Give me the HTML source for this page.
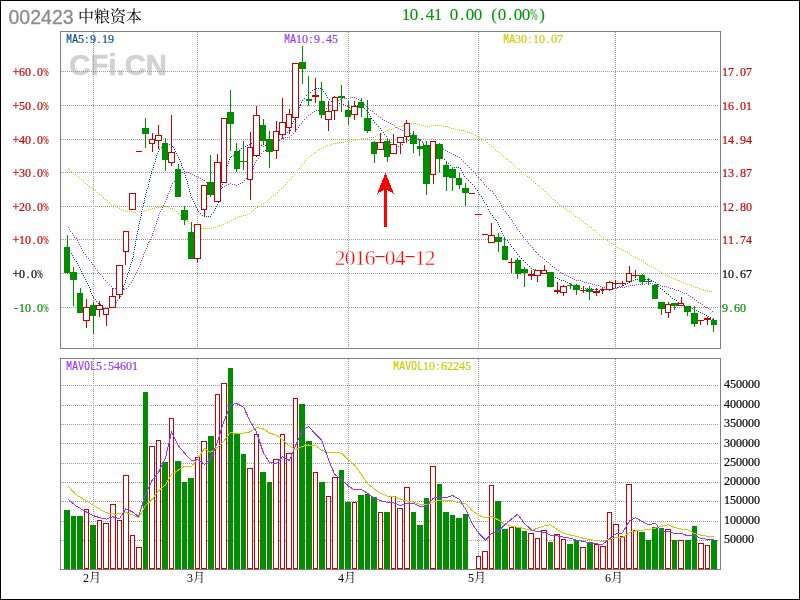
<!DOCTYPE html>
<html><head><meta charset="utf-8"><title>002423 中粮资本</title>
<style>html,body{margin:0;padding:0;background:#fff;overflow:hidden}svg{display:block}
.s{font-family:"Liberation Serif","Noto Serif CJK SC",serif}.m{font-family:"Liberation Mono",monospace}.a{font-family:"Liberation Sans","Noto Sans CJK SC",sans-serif}
.c{shape-rendering:crispEdges}</style></head><body>
<svg width="800" height="600" viewBox="0 0 800 600">
<rect x="0" y="0" width="800" height="600" fill="#fff"/>
<rect class="c" x="0.5" y="0.5" width="799" height="599" fill="none" stroke="#000" stroke-width="1"/>
<text class="a" x="69.3" y="75.3" font-size="29.3" font-weight="bold" fill="#d2d2d2" stroke="#d2d2d2" stroke-width="0.6">CFi.CN</text>
<g class="c" stroke="#999999" stroke-width="1" stroke-dasharray="1 1" fill="none">
<line x1="61" y1="71.5" x2="718.6" y2="71.5"/><line x1="61" y1="105.5" x2="718.6" y2="105.5"/><line x1="61" y1="139.5" x2="718.6" y2="139.5"/><line x1="61" y1="172.5" x2="718.6" y2="172.5"/><line x1="61" y1="206.5" x2="718.6" y2="206.5"/><line x1="61" y1="239.5" x2="718.6" y2="239.5"/><line x1="61" y1="273.5" x2="718.6" y2="273.5"/><line x1="61" y1="307.5" x2="718.6" y2="307.5"/><line x1="61" y1="540.5" x2="718.6" y2="540.5"/><line x1="61" y1="521.5" x2="718.6" y2="521.5"/><line x1="61" y1="501.5" x2="718.6" y2="501.5"/><line x1="61" y1="482.5" x2="718.6" y2="482.5"/><line x1="61" y1="463.5" x2="718.6" y2="463.5"/><line x1="61" y1="443.5" x2="718.6" y2="443.5"/><line x1="61" y1="424.5" x2="718.6" y2="424.5"/><line x1="61" y1="405.5" x2="718.6" y2="405.5"/><line x1="61" y1="385.5" x2="718.6" y2="385.5"/><line x1="93.5" y1="32" x2="93.5" y2="348"/><line x1="93.5" y1="359" x2="93.5" y2="569"/><line x1="197.5" y1="32" x2="197.5" y2="348"/><line x1="197.5" y1="359" x2="197.5" y2="569"/><line x1="348.5" y1="32" x2="348.5" y2="348"/><line x1="348.5" y1="359" x2="348.5" y2="569"/><line x1="478.5" y1="32" x2="478.5" y2="348"/><line x1="478.5" y1="359" x2="478.5" y2="569"/><line x1="615.5" y1="32" x2="615.5" y2="348"/><line x1="615.5" y1="359" x2="615.5" y2="569"/>
</g>
<g class="c" fill="none" stroke="#808080" stroke-width="1"><rect x="60.5" y="31.5" width="660" height="317"/><rect x="60.5" y="358.5" width="660" height="211"/></g>
<path class="c" d="M68 168h1M69 169h1M71 171h1M73 172h1M75 174h1M77 176h1M79 177h1M81 179h1M83 181h1M85 183h1M87 184h1M89 186h1M91 187h1M93 189h1M95 190h1M97 192h1M99 194h1M101 195h1M103 197h1M105 199h1M107 200h1M109 202h1M111 204h1M113 205h1M115 206h1M117 207h1M119 208h1M121 209h1M123 210h1M125 211h1M127 211h1M129 211h1M131 211h1M133 212h1M135 212h1M137 211h1M139 211h1M141 211h1M143 211h1M144 210h1M146 210h1M148 209h1M150 209h1M152 208h1M154 208h1M156 207h1M158 207h1M160 207h1M162 206h1M164 206h1M166 206h1M168 207h1M170 208h1M172 208h1M174 210h1M176 211h1M178 213h1M180 215h1M182 217h1M183 218h1M185 220h1M187 221h1M189 223h1M191 224h1M193 225h1M195 226h1M197 227h1M199 228h1M201 228h1M203 228h1M205 228h1M207 228h1M209 228h1M211 228h1M213 227h1M215 227h1M217 226h1M219 225h1M221 225h1M223 224h1M225 223h1M227 222h1M229 221h1M231 220h1M233 219h1M235 218h1M237 217h1M239 216h1M241 216h1M243 215h1M245 215h1M247 214h1M249 213h1M251 211h1M253 210h1M255 208h1M257 207h1M259 206h1M261 204h1M263 203h1M265 202h1M267 200h1M269 199h1M271 197h1M273 195h1M275 194h1M277 192h1M279 190h1M281 188h1M283 186h1M285 184h1M287 182h1M289 180h1M291 178h1M292 176h1M294 174h1M295 172h1M297 170h1M299 168h1M300 166h1M302 164h1M304 162h1M305 160h1M307 158h1M309 156h1M311 155h1M313 153h1M315 152h1M317 150h1M319 149h1M321 148h1M323 147h1M325 146h1M327 145h1M329 145h1M331 144h1M333 143h1M335 143h1M337 143h1M339 142h1M341 142h1M343 142h1M345 141h1M347 141h1M349 141h1M351 141h1M353 140h1M355 140h1M357 139h1M359 139h1M361 138h1M363 138h1M365 138h1M367 138h1M369 137h1M371 137h1M373 137h1M375 136h1M377 135h1M379 134h1M381 133h1M383 132h1M385 131h1M387 130h1M389 129h1M391 129h1M393 128h1M395 127h1M397 127h1M399 126h1M401 126h1M403 125h1M405 124h1M407 124h1M409 123h1M411 123h1M413 123h1M415 123h1M417 124h1M419 124h1M421 125h1M423 125h1M425 126h1M427 126h1M429 126h1M431 125h1M433 125h1M435 125h1M437 125h1M439 125h1M441 125h1M443 126h1M445 126h1M447 126h1M449 127h1M451 128h1M453 128h1M455 129h1M457 129h1M459 130h1M461 130h1M463 130h1M465 131h1M467 132h1M469 132h1M471 133h1M473 134h1M475 135h1M477 136h1M479 137h1M481 138h1M483 139h1M485 140h1M487 142h1M489 144h1M491 146h1M493 147h1M495 149h1M497 151h1M499 152h1M501 154h1M503 156h1M505 158h1M507 159h1M509 161h1M511 162h1M513 164h1M515 166h1M517 168h1M519 169h1M521 171h1M523 172h1M525 174h1M527 176h1M529 177h1M531 179h1M533 181h1M535 183h1M537 185h1M539 186h1M541 188h1M543 189h1M545 191h1M547 193h1M549 195h1M551 197h1M553 199h1M555 200h1M557 202h1M559 204h1M561 205h1M563 207h1M565 208h1M567 210h1M569 211h1M571 212h1M573 214h1M575 216h1M577 217h1M579 218h1M581 220h1M583 221h1M585 223h1M587 224h1M589 226h1M591 227h1M593 229h1M595 230h1M597 232h1M599 234h1M601 236h1M603 237h1M605 239h1M607 240h1M609 241h1M611 243h1M613 244h1M615 246h1M617 247h1M619 248h1M621 249h1M623 250h1M625 251h1M627 252h1M629 253h1M631 255h1M633 256h1M635 257h1M637 258h1M639 259h1M641 260h1M643 261h1M645 263h1M647 264h1M649 265h1M651 266h1M653 267h1M655 268h1M657 269h1M659 271h1M661 272h1M663 273h1M665 274h1M667 275h1M669 276h1M671 277h1M673 278h1M675 279h1M677 280h1M679 280h1M681 281h1M683 282h1M685 283h1M687 284h1M689 284h1M691 285h1M693 286h1M695 287h1M697 287h1M699 288h1M701 289h1M703 289h1M705 290h1M707 290h1M709 291h1M711 291h1" transform="translate(0,0.5)" stroke="#cccc00" stroke-width="1" fill="none"/>
<path class="c" d="M68 227h1M69 229h1M70 231h1M72 233h1M73 235h1M74 237h1M76 238h1M77 240h1M78 242h1M79 244h1M80 246h1M81 248h1M82 250h1M83 252h1M85 254h1M86 256h1M88 258h1M89 260h1M91 262h1M92 264h1M94 266h1M95 268h1M97 270h1M98 272h1M100 274h1M102 276h1M103 278h1M105 280h1M107 282h1M109 284h1M111 286h1M113 288h1M115 288h1M117 288h1M119 288h1M121 289h1M123 289h1M124 289h1M126 288h1M128 286h1M129 284h1M131 282h1M132 280h1M133 278h1M134 276h1M135 274h1M136 272h1M137 270h1M138 268h1M139 266h1M140 264h1M140 262h1M141 260h1M142 258h1M143 256h1M143 254h1M144 252h1M145 250h1M146 248h1M147 246h1M147 244h1M148 242h1M149 241h1M150 239h1M151 237h1M152 235h1M152 233h1M153 231h1M154 229h1M154 227h1M155 225h1M156 223h1M156 221h1M157 219h1M158 217h1M158 215h1M159 213h1M160 211h1M161 209h1M162 207h1M163 205h1M164 203h1M165 201h1M166 199h1M167 197h1M167 195h1M168 193h1M169 191h1M170 189h1M170 187h1M171 185h1M172 183h1M174 181h1M175 179h1M177 177h1M178 175h1M180 174h1M182 172h1M184 171h1M186 172h1M188 172h1M190 173h1M192 174h1M194 175h1M196 176h1M198 177h1M200 178h1M202 179h1M204 180h1M206 182h1M208 184h1M210 186h1M212 187h1M214 187h1M216 188h1M218 188h1M220 188h1M222 187h1M224 186h1M226 185h1M228 184h1M230 183h1M232 184h1M234 184h1M236 185h1M238 184h1M240 183h1M242 182h1M244 180h1M246 178h1M248 176h1M250 174h1M251 172h1M252 170h1M253 168h1M253 166h1M254 164h1M255 162h1M256 160h1M258 158h1M260 156h1M261 153h1M263 151h1M265 150h1M267 149h1M269 148h1M271 146h1M273 144h1M275 143h1M277 141h1M279 140h1M281 138h1M283 138h1M285 137h1M287 137h1M289 137h1M291 135h1M293 133h1M295 131h1M296 129h1M298 127h1M299 125h1M301 123h1M302 121h1M304 119h1M306 117h1M308 115h1M310 114h1M312 112h1M314 111h1M316 110h1M318 110h1M320 110h1M322 109h1M324 109h1M326 108h1M328 107h1M330 105h1M332 103h1M334 102h1M336 101h1M338 100h1M340 99h1M342 98h1M344 98h1M346 98h1M348 98h1M350 97h1M352 97h1M354 97h1M356 98h1M358 99h1M360 100h1M362 102h1M364 104h1M366 106h1M368 108h1M370 110h1M372 111h1M374 113h1M376 114h1M378 116h1M380 117h1M382 119h1M384 120h1M386 121h1M388 122h1M390 123h1M392 124h1M394 125h1M396 127h1M398 128h1M400 129h1M402 130h1M404 131h1M406 131h1M408 132h1M410 133h1M412 134h1M414 135h1M416 136h1M418 138h1M420 139h1M422 141h1M423 143h1M425 145h1M427 146h1M429 146h1M431 147h1M433 147h1M435 147h1M437 147h1M439 148h1M441 148h1M443 149h1M445 150h1M447 151h1M449 152h1M451 153h1M453 154h1M455 155h1M457 156h1M459 157h1M461 159h1M463 161h1M465 163h1M467 165h1M469 167h1M471 169h1M473 171h1M475 173h1M476 175h1M478 177h1M480 179h1M481 180h1M483 182h1M484 184h1M486 186h1M488 188h1M490 190h1M492 191h1M493 193h1M495 195h1M496 197h1M497 199h1M499 201h1M500 203h1M501 205h1M502 207h1M503 209h1M505 211h1M506 213h1M508 215h1M509 217h1M511 219h1M512 221h1M513 223h1M515 225h1M516 227h1M517 229h1M519 231h1M520 233h1M522 235h1M523 237h1M525 239h1M527 241h1M528 243h1M530 245h1M532 247h1M533 249h1M535 251h1M536 252h1M538 254h1M540 256h1M542 257h1M544 259h1M546 261h1M548 262h1M550 264h1M552 266h1M554 267h1M556 269h1M558 270h1M560 272h1M562 273h1M564 275h1M566 275h1M568 276h1M570 277h1M572 278h1M574 279h1M576 280h1M578 280h1M580 280h1M582 281h1M584 282h1M586 282h1M588 283h1M590 283h1M592 284h1M594 284h1M596 285h1M598 285h1M600 286h1M602 287h1M604 287h1M606 287h1M608 288h1M610 288h1M612 288h1M614 288h1M616 288h1M618 287h1M620 287h1M622 287h1M624 287h1M626 286h1M628 286h1M630 285h1M632 285h1M634 285h1M636 284h1M638 284h1M640 284h1M642 284h1M644 284h1M646 283h1M648 283h1M650 283h1M652 283h1M654 284h1M656 284h1M658 284h1M660 285h1M662 286h1M664 286h1M666 286h1M668 287h1M670 288h1M672 288h1M674 289h1M676 290h1M678 290h1M680 291h1M682 292h1M684 293h1M686 293h1M688 295h1M690 296h1M692 297h1M694 299h1M696 300h1M698 302h1M700 303h1M702 304h1M704 306h1M706 307h1M708 308h1M710 309h1M712 311h1" transform="translate(0,0.5)" stroke="#9933ff" stroke-width="1" fill="none"/>
<path class="c" d="M67 247h1M68 249h1M69 251h1M71 253h1M72 255h1M73 257h1M74 259h1M76 261h1M77 263h1M78 265h1M79 267h1M80 269h1M81 271h1M82 273h1M83 275h1M84 277h1M85 279h1M86 281h1M87 283h1M88 285h1M89 287h1M90 289h1M90 291h1M91 293h1M92 295h1M93 297h1M95 299h1M96 301h1M98 303h1M100 304h1M102 306h1M104 308h1M106 309h1M108 308h1M110 307h1M112 306h1M114 304h1M116 302h1M117 300h1M119 298h1M120 296h1M120 294h1M121 292h1M122 290h1M123 288h1M123 286h1M124 284h1M125 282h1M125 280h1M126 278h1M127 276h1M127 274h1M128 272h1M129 270h1M129 268h1M130 266h1M130 264h1M131 262h1M132 260h1M132 258h1M133 256h1M133 254h1M133 252h1M134 249h1M134 247h1M135 245h1M135 243h1M135 241h1M136 239h1M136 237h1M136 235h1M137 233h1M137 231h1M138 229h1M138 227h1M138 225h1M139 223h1M139 221h1M140 219h1M140 217h1M141 215h1M141 213h1M141 211h1M142 209h1M142 207h1M143 205h1M143 203h1M144 202h1M144 200h1M144 198h1M145 196h1M145 194h1M146 192h1M146 190h1M147 188h1M148 186h1M148 184h1M149 181h1M149 179h1M150 177h1M150 175h1M151 173h1M151 171h1M152 169h1M153 167h1M153 165h1M154 163h1M155 161h1M155 159h1M156 157h1M156 155h1M157 153h1M158 151h1M159 149h1M161 147h1M163 145h1M165 143h1M167 143h1M169 144h1M171 144h1M172 146h1M173 147h1M174 149h1M175 151h1M176 153h1M177 155h1M178 157h1M179 159h1M180 161h1M181 163h1M181 165h1M182 167h1M183 169h1M184 171h1M184 173h1M185 175h1M185 177h1M186 179h1M187 181h1M187 183h1M188 185h1M188 187h1M189 189h1M189 191h1M190 193h1M190 195h1M191 197h1M192 199h1M193 201h1M194 203h1M195 205h1M196 207h1M197 209h1M198 211h1M200 213h1M202 215h1M204 216h1M206 216h1M208 216h1M210 216h1M211 214h1M213 212h1M214 210h1M215 208h1M216 206h1M217 204h1M218 202h1M218 200h1M219 198h1M219 196h1M219 194h1M220 192h1M220 190h1M221 188h1M221 186h1M222 184h1M222 182h1M222 180h1M223 178h1M223 176h1M224 174h1M225 172h1M225 170h1M226 168h1M227 165h1M228 163h1M228 161h1M229 159h1M230 157h1M231 156h1M233 155h1M235 154h1M237 152h1M239 150h1M241 148h1M243 146h1M245 146h1M247 145h1M249 144h1M251 143h1M253 143h1M255 143h1M257 143h1M259 144h1M261 145h1M263 146h1M265 145h1M267 144h1M269 143h1M271 141h1M273 139h1M275 138h1M277 136h1M279 134h1M281 133h1M283 132h1M285 132h1M287 132h1M289 132h1M290 130h1M291 127h1M291 125h1M292 123h1M293 121h1M294 119h1M295 117h1M295 115h1M296 113h1M297 111h1M298 109h1M299 107h1M300 105h1M300 104h1M301 102h1M302 100h1M304 98h1M306 95h1M308 93h1M310 92h1M312 90h1M314 89h1M316 88h1M318 88h1M320 88h1M322 89h1M323 91h1M325 93h1M326 95h1M327 97h1M329 99h1M331 101h1M333 102h1M335 103h1M337 103h1M339 103h1M341 103h1M343 104h1M345 105h1M347 106h1M349 107h1M351 106h1M353 106h1M355 105h1M357 105h1M359 105h1M361 105h1M363 106h1M364 108h1M366 110h1M368 112h1M369 114h1M370 116h1M371 118h1M373 120h1M374 122h1M376 124h1M378 126h1M380 128h1M381 130h1M383 132h1M384 134h1M386 136h1M387 138h1M389 140h1M390 142h1M392 144h1M394 145h1M396 146h1M398 146h1M400 146h1M402 144h1M404 142h1M406 140h1M408 140h1M410 141h1M412 141h1M414 140h1M416 140h1M418 139h1M420 140h1M422 142h1M423 144h1M425 146h1M427 147h1M429 147h1M431 147h1M433 148h1M435 150h1M436 152h1M438 154h1M440 156h1M442 157h1M444 159h1M446 161h1M448 163h1M450 165h1M452 167h1M454 167h1M456 167h1M458 167h1M460 168h1M461 170h1M462 172h1M463 174h1M464 176h1M466 178h1M468 180h1M470 182h1M472 184h1M474 186h1M475 188h1M477 190h1M478 192h1M479 194h1M481 196h1M482 198h1M483 200h1M484 202h1M486 204h1M487 206h1M488 209h1M489 211h1M490 213h1M492 215h1M493 217h1M495 219h1M496 220h1M497 222h1M498 224h1M499 226h1M500 228h1M501 231h1M502 233h1M503 235h1M504 237h1M505 239h1M507 240h1M508 242h1M510 244h1M511 246h1M513 248h1M514 250h1M516 252h1M517 254h1M519 256h1M521 258h1M523 260h1M525 262h1M527 264h1M529 266h1M531 268h1M533 269h1M535 269h1M537 270h1M539 271h1M541 271h1M543 272h1M545 272h1M547 273h1M549 274h1M551 275h1M553 276h1M555 277h1M557 278h1M559 279h1M561 280h1M563 280h1M565 281h1M567 282h1M569 283h1M571 284h1M573 285h1M575 287h1M577 287h1M579 288h1M581 288h1M583 288h1M585 288h1M587 288h1M589 288h1M591 288h1M593 289h1M595 289h1M597 289h1M599 290h1M601 290h1M603 290h1M605 289h1M607 289h1M609 289h1M611 288h1M613 288h1M615 287h1M617 287h1M619 286h1M621 286h1M623 285h1M625 284h1M627 283h1M629 282h1M631 281h1M633 280h1M635 279h1M637 279h1M639 279h1M641 279h1M643 279h1M645 279h1M647 279h1M649 279h1M651 280h1M653 281h1M655 282h1M657 284h1M658 286h1M660 288h1M662 289h1M664 291h1M666 293h1M668 294h1M670 296h1M672 298h1M674 299h1M676 300h1M678 302h1M680 303h1M682 304h1M684 305h1M686 306h1M688 307h1M690 307h1M692 308h1M694 309h1M696 310h1M698 311h1M700 312h1M702 313h1M704 314h1M706 315h1M708 316h1M710 317h1M712 319h1" transform="translate(0,0.5)" stroke="#004c99" stroke-width="1" fill="none"/>
<g class="c">
<rect x="67" y="235" width="1" height="39" fill="#008e00"/><rect x="64" y="247" width="6" height="26" fill="#008e00"/>
<rect x="73" y="267" width="1" height="39" fill="#008e00"/><rect x="70" y="272" width="7" height="8" fill="#008e00"/>
<rect x="80" y="288" width="1" height="25" fill="#008e00"/><rect x="77" y="293" width="6" height="20" fill="#008e00"/>
<rect x="86" y="299" width="1" height="29" fill="#cc0000"/><rect x="83.5" y="307.5" width="6" height="13" fill="#fff" stroke="#cc0000" stroke-width="1"/>
<rect x="93" y="302" width="1" height="32" fill="#008e00"/><rect x="90" y="305" width="6" height="11" fill="#008e00"/>
<rect x="99" y="301" width="1" height="16" fill="#cc0000"/><rect x="96.5" y="305.5" width="6" height="4" fill="#fff" stroke="#cc0000" stroke-width="1"/>
<rect x="106" y="308" width="1" height="18" fill="#cc0000"/><rect x="103.5" y="308.5" width="5" height="6" fill="#fff" stroke="#cc0000" stroke-width="1"/>
<rect x="112" y="288" width="1" height="20" fill="#cc0000"/><rect x="109.5" y="296.5" width="6" height="11" fill="#fff" stroke="#cc0000" stroke-width="1"/>
<rect x="119" y="265" width="1" height="34" fill="#cc0000"/><rect x="116.5" y="265.5" width="6" height="29" fill="#fff" stroke="#cc0000" stroke-width="1"/>
<rect x="125" y="231" width="1" height="34" fill="#cc0000"/><rect x="123.5" y="231.5" width="5" height="20" fill="#fff" stroke="#cc0000" stroke-width="1"/>
<rect x="132" y="193" width="1" height="17" fill="#cc0000"/><rect x="129.5" y="193.5" width="6" height="16" fill="#fff" stroke="#cc0000" stroke-width="1"/>
<rect x="136" y="151" width="6" height="1" fill="#cc0000"/>
<rect x="145" y="118" width="1" height="30" fill="#008e00"/><rect x="142" y="128" width="7" height="6" fill="#008e00"/>
<rect x="152" y="133" width="1" height="19" fill="#cc0000"/><rect x="149.5" y="139.5" width="5" height="4" fill="#fff" stroke="#cc0000" stroke-width="1"/>
<rect x="158" y="125" width="1" height="24" fill="#cc0000"/><rect x="155.5" y="135.5" width="6" height="5" fill="#fff" stroke="#cc0000" stroke-width="1"/>
<rect x="165" y="138" width="1" height="33" fill="#008e00"/><rect x="162" y="143" width="6" height="17" fill="#008e00"/>
<rect x="171" y="115" width="1" height="51" fill="#cc0000"/><rect x="168.5" y="152.5" width="6" height="10" fill="#fff" stroke="#cc0000" stroke-width="1"/>
<rect x="178" y="164" width="1" height="33" fill="#008e00"/><rect x="175" y="169" width="6" height="28" fill="#008e00"/>
<rect x="184" y="206" width="1" height="19" fill="#008e00"/><rect x="181" y="210" width="7" height="10" fill="#008e00"/>
<rect x="191" y="222" width="1" height="37" fill="#008e00"/><rect x="188" y="232" width="6" height="27" fill="#008e00"/>
<rect x="197" y="224" width="1" height="39" fill="#cc0000"/><rect x="194.5" y="224.5" width="6" height="34" fill="#fff" stroke="#cc0000" stroke-width="1"/>
<rect x="204" y="185" width="1" height="32" fill="#cc0000"/><rect x="201.5" y="185.5" width="5" height="24" fill="#fff" stroke="#cc0000" stroke-width="1"/>
<rect x="210" y="155" width="1" height="42" fill="#008e00"/><rect x="207" y="182" width="7" height="13" fill="#008e00"/>
<rect x="217" y="154" width="1" height="48" fill="#cc0000"/><rect x="214.5" y="162.5" width="6" height="39" fill="#fff" stroke="#cc0000" stroke-width="1"/>
<rect x="223" y="118" width="1" height="65" fill="#cc0000"/><rect x="221.5" y="118.5" width="5" height="64" fill="#fff" stroke="#cc0000" stroke-width="1"/>
<rect x="230" y="90" width="1" height="61" fill="#008e00"/><rect x="227" y="112" width="7" height="12" fill="#008e00"/>
<rect x="236" y="143" width="1" height="29" fill="#008e00"/><rect x="234" y="151" width="6" height="18" fill="#008e00"/>
<rect x="243" y="141" width="1" height="29" fill="#008e00"/><rect x="240" y="161" width="7" height="1" fill="#008e00"/>
<rect x="250" y="132" width="1" height="68" fill="#cc0000"/><rect x="247.5" y="147.5" width="5" height="32" fill="#fff" stroke="#cc0000" stroke-width="1"/>
<rect x="256" y="106" width="1" height="51" fill="#cc0000"/><rect x="253.5" y="115.5" width="6" height="40" fill="#fff" stroke="#cc0000" stroke-width="1"/>
<rect x="263" y="119" width="1" height="26" fill="#008e00"/><rect x="260" y="125" width="6" height="16" fill="#008e00"/>
<rect x="269" y="131" width="1" height="37" fill="#008e00"/><rect x="266" y="139" width="7" height="13" fill="#008e00"/>
<rect x="276" y="121" width="1" height="38" fill="#cc0000"/><rect x="273.5" y="131.5" width="5" height="19" fill="#fff" stroke="#cc0000" stroke-width="1"/>
<rect x="282" y="98" width="1" height="41" fill="#cc0000"/><rect x="279.5" y="122.5" width="6" height="12" fill="#fff" stroke="#cc0000" stroke-width="1"/>
<rect x="289" y="109" width="1" height="25" fill="#cc0000"/><rect x="286.5" y="114.5" width="5" height="13" fill="#fff" stroke="#cc0000" stroke-width="1"/>
<rect x="295" y="63" width="1" height="69" fill="#cc0000"/><rect x="292.5" y="63.5" width="6" height="54" fill="#fff" stroke="#cc0000" stroke-width="1"/>
<rect x="302" y="46" width="1" height="38" fill="#008e00"/><rect x="299" y="62" width="7" height="7" fill="#008e00"/>
<rect x="308" y="76" width="1" height="30" fill="#008e00"/><rect x="306" y="99" width="6" height="2" fill="#008e00"/>
<rect x="315" y="78" width="1" height="25" fill="#cc0000"/><rect x="312" y="95" width="7" height="2" fill="#cc0000"/>
<rect x="321" y="82" width="1" height="36" fill="#008e00"/><rect x="319" y="101" width="6" height="14" fill="#008e00"/>
<rect x="328" y="101" width="1" height="30" fill="#cc0000"/><rect x="325.5" y="111.5" width="6" height="8" fill="#fff" stroke="#cc0000" stroke-width="1"/>
<rect x="334" y="96" width="1" height="24" fill="#cc0000"/><rect x="332.5" y="97.5" width="5" height="13" fill="#fff" stroke="#cc0000" stroke-width="1"/>
<rect x="341" y="85" width="1" height="27" fill="#008e00"/><rect x="338" y="96" width="7" height="2" fill="#008e00"/>
<rect x="348" y="101" width="1" height="24" fill="#008e00"/><rect x="345" y="110" width="6" height="7" fill="#008e00"/>
<rect x="354" y="101" width="1" height="19" fill="#cc0000"/><rect x="351.5" y="106.5" width="6" height="8" fill="#fff" stroke="#cc0000" stroke-width="1"/>
<rect x="361" y="98" width="1" height="19" fill="#008e00"/><rect x="358" y="102" width="6" height="6" fill="#008e00"/>
<rect x="367" y="100" width="1" height="33" fill="#008e00"/><rect x="364" y="118" width="7" height="13" fill="#008e00"/>
<rect x="374" y="141" width="1" height="22" fill="#008e00"/><rect x="371" y="142" width="6" height="12" fill="#008e00"/>
<rect x="380" y="133" width="1" height="17" fill="#cc0000"/><rect x="377.5" y="142.5" width="6" height="7" fill="#fff" stroke="#cc0000" stroke-width="1"/>
<rect x="387" y="138" width="1" height="24" fill="#008e00"/><rect x="384" y="141" width="6" height="16" fill="#008e00"/>
<rect x="393" y="134" width="1" height="20" fill="#cc0000"/><rect x="390.5" y="144.5" width="6" height="9" fill="#fff" stroke="#cc0000" stroke-width="1"/>
<rect x="400" y="137" width="1" height="17" fill="#cc0000"/><rect x="397.5" y="137.5" width="6" height="5" fill="#fff" stroke="#cc0000" stroke-width="1"/>
<rect x="406" y="120" width="1" height="23" fill="#cc0000"/><rect x="404.5" y="123.5" width="5" height="13" fill="#fff" stroke="#cc0000" stroke-width="1"/>
<rect x="413" y="131" width="1" height="22" fill="#008e00"/><rect x="410" y="135" width="7" height="9" fill="#008e00"/>
<rect x="419" y="139" width="1" height="17" fill="#008e00"/><rect x="417" y="146" width="6" height="3" fill="#008e00"/>
<rect x="426" y="141" width="1" height="54" fill="#008e00"/><rect x="423" y="145" width="7" height="39" fill="#008e00"/>
<rect x="433" y="141" width="1" height="43" fill="#cc0000"/><rect x="430.5" y="141.5" width="5" height="33" fill="#fff" stroke="#cc0000" stroke-width="1"/>
<rect x="439" y="143" width="1" height="29" fill="#008e00"/><rect x="436" y="144" width="7" height="15" fill="#008e00"/>
<rect x="446" y="161" width="1" height="30" fill="#008e00"/><rect x="443" y="165" width="6" height="12" fill="#008e00"/>
<rect x="452" y="167" width="1" height="24" fill="#008e00"/><rect x="449" y="169" width="7" height="9" fill="#008e00"/>
<rect x="459" y="173" width="1" height="16" fill="#008e00"/><rect x="456" y="178" width="6" height="7" fill="#008e00"/>
<rect x="465" y="183" width="1" height="23" fill="#008e00"/><rect x="462" y="188" width="7" height="5" fill="#008e00"/>
<rect x="469" y="193" width="6" height="1" fill="#cc0000"/>
<rect x="475" y="214" width="7" height="1" fill="#cc0000"/>
<rect x="482" y="234" width="6" height="1" fill="#cc0000"/>
<rect x="491" y="223" width="1" height="20" fill="#cc0000"/><rect x="488.5" y="235.5" width="6" height="7" fill="#fff" stroke="#cc0000" stroke-width="1"/>
<rect x="498" y="233" width="1" height="19" fill="#008e00"/><rect x="495" y="237" width="7" height="5" fill="#008e00"/>
<rect x="504" y="238" width="1" height="22" fill="#008e00"/><rect x="502" y="246" width="6" height="14" fill="#008e00"/>
<rect x="511" y="258" width="1" height="15" fill="#cc0000"/><rect x="508" y="262" width="7" height="1" fill="#cc0000"/>
<rect x="517" y="258" width="1" height="21" fill="#008e00"/><rect x="515" y="260" width="6" height="14" fill="#008e00"/>
<rect x="524" y="267" width="1" height="20" fill="#008e00"/><rect x="521" y="269" width="7" height="4" fill="#008e00"/>
<rect x="531" y="270" width="1" height="10" fill="#cc0000"/><rect x="528" y="274" width="6" height="2" fill="#cc0000"/>
<rect x="537" y="270" width="1" height="12" fill="#cc0000"/><rect x="534.5" y="270.5" width="6" height="5" fill="#fff" stroke="#cc0000" stroke-width="1"/>
<rect x="544" y="265" width="1" height="9" fill="#cc0000"/><rect x="541.5" y="270.5" width="5" height="3" fill="#fff" stroke="#cc0000" stroke-width="1"/>
<rect x="550" y="272" width="1" height="15" fill="#008e00"/><rect x="547" y="272" width="7" height="15" fill="#008e00"/>
<rect x="557" y="282" width="1" height="12" fill="#cc0000"/><rect x="554" y="290" width="6" height="2" fill="#cc0000"/>
<rect x="563" y="285" width="1" height="11" fill="#cc0000"/><rect x="560.5" y="286.5" width="6" height="6" fill="#fff" stroke="#cc0000" stroke-width="1"/>
<rect x="570" y="283" width="1" height="6" fill="#008e00"/><rect x="567" y="285" width="6" height="1" fill="#008e00"/>
<rect x="576" y="284" width="1" height="11" fill="#008e00"/><rect x="573" y="285" width="7" height="5" fill="#008e00"/>
<rect x="583" y="286" width="1" height="7" fill="#cc0000"/><rect x="580" y="290" width="6" height="1" fill="#cc0000"/>
<rect x="589" y="286" width="1" height="14" fill="#008e00"/><rect x="586" y="289" width="7" height="3" fill="#008e00"/>
<rect x="596" y="288" width="1" height="8" fill="#cc0000"/><rect x="593" y="291" width="7" height="2" fill="#cc0000"/>
<rect x="602" y="287" width="1" height="7" fill="#cc0000"/><rect x="600" y="289" width="6" height="1" fill="#cc0000"/>
<rect x="609" y="281" width="1" height="10" fill="#cc0000"/><rect x="606.5" y="282.5" width="6" height="7" fill="#fff" stroke="#cc0000" stroke-width="1"/>
<rect x="615" y="280" width="1" height="7" fill="#cc0000"/><rect x="613" y="283" width="6" height="1" fill="#cc0000"/>
<rect x="622" y="281" width="1" height="5" fill="#cc0000"/><rect x="619" y="283" width="7" height="1" fill="#cc0000"/>
<rect x="629" y="266" width="1" height="16" fill="#cc0000"/><rect x="626.5" y="273.5" width="5" height="8" fill="#fff" stroke="#cc0000" stroke-width="1"/>
<rect x="635" y="270" width="1" height="8" fill="#cc0000"/><rect x="632" y="275" width="7" height="1" fill="#cc0000"/>
<rect x="642" y="274" width="1" height="10" fill="#008e00"/><rect x="639" y="275" width="6" height="7" fill="#008e00"/>
<rect x="648" y="278" width="1" height="7" fill="#008e00"/><rect x="645" y="281" width="7" height="1" fill="#008e00"/>
<rect x="655" y="284" width="1" height="15" fill="#008e00"/><rect x="652" y="285" width="6" height="14" fill="#008e00"/>
<rect x="661" y="302" width="1" height="13" fill="#008e00"/><rect x="658" y="302" width="7" height="7" fill="#008e00"/>
<rect x="668" y="302" width="1" height="16" fill="#cc0000"/><rect x="665.5" y="304.5" width="5" height="8" fill="#fff" stroke="#cc0000" stroke-width="1"/>
<rect x="674" y="303" width="1" height="7" fill="#008e00"/><rect x="671" y="303" width="7" height="3" fill="#008e00"/>
<rect x="681" y="297" width="1" height="9" fill="#cc0000"/><rect x="678.5" y="303.5" width="5" height="2" fill="#fff" stroke="#cc0000" stroke-width="1"/>
<rect x="687" y="306" width="1" height="10" fill="#008e00"/><rect x="684" y="306" width="7" height="6" fill="#008e00"/>
<rect x="694" y="306" width="1" height="21" fill="#008e00"/><rect x="691" y="313" width="7" height="11" fill="#008e00"/>
<rect x="700" y="320" width="1" height="5" fill="#cc0000"/><rect x="698" y="320" width="6" height="1" fill="#cc0000"/>
<rect x="707" y="317" width="1" height="8" fill="#cc0000"/><rect x="704" y="318" width="7" height="2" fill="#cc0000"/>
<rect x="713" y="318" width="1" height="14" fill="#008e00"/><rect x="711" y="320" width="6" height="5" fill="#008e00"/>
</g>
<g class="c">
<rect x="64" y="510" width="6" height="59" fill="#008e00"/>
<rect x="71" y="516" width="5" height="53" fill="#008e00"/>
<rect x="77" y="516" width="6" height="53" fill="#008e00"/>
<rect x="84.5" y="509.5" width="4" height="59" fill="#fff" stroke="#cc0000" stroke-width="1"/>
<rect x="90" y="525" width="6" height="44" fill="#008e00"/>
<rect x="97.5" y="520.5" width="4" height="48" fill="#fff" stroke="#cc0000" stroke-width="1"/>
<rect x="103.5" y="523.5" width="5" height="45" fill="#fff" stroke="#cc0000" stroke-width="1"/>
<rect x="110.5" y="504.5" width="5" height="64" fill="#fff" stroke="#cc0000" stroke-width="1"/>
<rect x="117.5" y="520.5" width="4" height="48" fill="#fff" stroke="#cc0000" stroke-width="1"/>
<rect x="123.5" y="475.5" width="5" height="93" fill="#fff" stroke="#cc0000" stroke-width="1"/>
<rect x="130.5" y="535.5" width="4" height="33" fill="#fff" stroke="#cc0000" stroke-width="1"/>
<rect x="136.5" y="547.5" width="5" height="21" fill="#fff" stroke="#cc0000" stroke-width="1"/>
<rect x="143" y="392" width="5" height="177" fill="#008e00"/>
<rect x="149.5" y="446.5" width="5" height="122" fill="#fff" stroke="#cc0000" stroke-width="1"/>
<rect x="156.5" y="440.5" width="4" height="128" fill="#fff" stroke="#cc0000" stroke-width="1"/>
<rect x="162" y="462" width="6" height="107" fill="#008e00"/>
<rect x="169.5" y="418.5" width="4" height="150" fill="#fff" stroke="#cc0000" stroke-width="1"/>
<rect x="175" y="461" width="6" height="108" fill="#008e00"/>
<rect x="182" y="482" width="5" height="87" fill="#008e00"/>
<rect x="188" y="478" width="6" height="91" fill="#008e00"/>
<rect x="195.5" y="457.5" width="4" height="111" fill="#fff" stroke="#cc0000" stroke-width="1"/>
<rect x="201.5" y="441.5" width="5" height="127" fill="#fff" stroke="#cc0000" stroke-width="1"/>
<rect x="208" y="436" width="6" height="133" fill="#008e00"/>
<rect x="215.5" y="394.5" width="4" height="174" fill="#fff" stroke="#cc0000" stroke-width="1"/>
<rect x="221.5" y="383.5" width="5" height="185" fill="#fff" stroke="#cc0000" stroke-width="1"/>
<rect x="228" y="368" width="5" height="201" fill="#008e00"/>
<rect x="234" y="434" width="6" height="135" fill="#008e00"/>
<rect x="241" y="454" width="5" height="115" fill="#008e00"/>
<rect x="247.5" y="468.5" width="5" height="100" fill="#fff" stroke="#cc0000" stroke-width="1"/>
<rect x="254.5" y="434.5" width="4" height="134" fill="#fff" stroke="#cc0000" stroke-width="1"/>
<rect x="260" y="472" width="6" height="97" fill="#008e00"/>
<rect x="267" y="482" width="5" height="87" fill="#008e00"/>
<rect x="273.5" y="459.5" width="5" height="109" fill="#fff" stroke="#cc0000" stroke-width="1"/>
<rect x="280.5" y="434.5" width="4" height="134" fill="#fff" stroke="#cc0000" stroke-width="1"/>
<rect x="286.5" y="453.5" width="5" height="115" fill="#fff" stroke="#cc0000" stroke-width="1"/>
<rect x="293.5" y="398.5" width="4" height="170" fill="#fff" stroke="#cc0000" stroke-width="1"/>
<rect x="299" y="404" width="6" height="165" fill="#008e00"/>
<rect x="306" y="441" width="6" height="128" fill="#008e00"/>
<rect x="313.5" y="472.5" width="4" height="96" fill="#fff" stroke="#cc0000" stroke-width="1"/>
<rect x="319" y="482" width="6" height="87" fill="#008e00"/>
<rect x="326.5" y="496.5" width="4" height="72" fill="#fff" stroke="#cc0000" stroke-width="1"/>
<rect x="332.5" y="477.5" width="5" height="91" fill="#fff" stroke="#cc0000" stroke-width="1"/>
<rect x="339" y="470" width="5" height="99" fill="#008e00"/>
<rect x="345" y="502" width="6" height="67" fill="#008e00"/>
<rect x="352.5" y="502.5" width="4" height="66" fill="#fff" stroke="#cc0000" stroke-width="1"/>
<rect x="358" y="495" width="6" height="74" fill="#008e00"/>
<rect x="365" y="494" width="5" height="75" fill="#008e00"/>
<rect x="371" y="497" width="6" height="72" fill="#008e00"/>
<rect x="378.5" y="512.5" width="4" height="56" fill="#fff" stroke="#cc0000" stroke-width="1"/>
<rect x="384" y="512" width="6" height="57" fill="#008e00"/>
<rect x="391.5" y="496.5" width="4" height="72" fill="#fff" stroke="#cc0000" stroke-width="1"/>
<rect x="397.5" y="508.5" width="5" height="60" fill="#fff" stroke="#cc0000" stroke-width="1"/>
<rect x="404.5" y="487.5" width="5" height="81" fill="#fff" stroke="#cc0000" stroke-width="1"/>
<rect x="411" y="512" width="5" height="57" fill="#008e00"/>
<rect x="417" y="525" width="6" height="44" fill="#008e00"/>
<rect x="424" y="498" width="5" height="71" fill="#008e00"/>
<rect x="430.5" y="466.5" width="5" height="102" fill="#fff" stroke="#cc0000" stroke-width="1"/>
<rect x="437" y="484" width="5" height="85" fill="#008e00"/>
<rect x="443" y="512" width="6" height="57" fill="#008e00"/>
<rect x="450" y="515" width="5" height="54" fill="#008e00"/>
<rect x="456" y="518" width="6" height="51" fill="#008e00"/>
<rect x="463" y="514" width="5" height="55" fill="#008e00"/>
<rect x="476.5" y="556.5" width="4" height="12" fill="#fff" stroke="#cc0000" stroke-width="1"/>
<rect x="482.5" y="551.5" width="5" height="17" fill="#fff" stroke="#cc0000" stroke-width="1"/>
<rect x="489.5" y="485.5" width="4" height="83" fill="#fff" stroke="#cc0000" stroke-width="1"/>
<rect x="495" y="501" width="6" height="68" fill="#008e00"/>
<rect x="502" y="529" width="6" height="40" fill="#008e00"/>
<rect x="509.5" y="527.5" width="4" height="41" fill="#fff" stroke="#cc0000" stroke-width="1"/>
<rect x="515" y="527" width="6" height="42" fill="#008e00"/>
<rect x="522" y="531" width="5" height="38" fill="#008e00"/>
<rect x="528.5" y="533.5" width="5" height="35" fill="#fff" stroke="#cc0000" stroke-width="1"/>
<rect x="535.5" y="538.5" width="4" height="30" fill="#fff" stroke="#cc0000" stroke-width="1"/>
<rect x="541.5" y="530.5" width="5" height="38" fill="#fff" stroke="#cc0000" stroke-width="1"/>
<rect x="548" y="542" width="5" height="27" fill="#008e00"/>
<rect x="554.5" y="534.5" width="5" height="34" fill="#fff" stroke="#cc0000" stroke-width="1"/>
<rect x="561.5" y="539.5" width="4" height="29" fill="#fff" stroke="#cc0000" stroke-width="1"/>
<rect x="567" y="544" width="6" height="25" fill="#008e00"/>
<rect x="574" y="540" width="5" height="29" fill="#008e00"/>
<rect x="580.5" y="547.5" width="5" height="21" fill="#fff" stroke="#cc0000" stroke-width="1"/>
<rect x="587" y="542" width="6" height="27" fill="#008e00"/>
<rect x="594.5" y="544.5" width="4" height="24" fill="#fff" stroke="#cc0000" stroke-width="1"/>
<rect x="600.5" y="546.5" width="5" height="22" fill="#fff" stroke="#cc0000" stroke-width="1"/>
<rect x="607.5" y="512.5" width="4" height="56" fill="#fff" stroke="#cc0000" stroke-width="1"/>
<rect x="613.5" y="524.5" width="5" height="44" fill="#fff" stroke="#cc0000" stroke-width="1"/>
<rect x="620.5" y="536.5" width="4" height="32" fill="#fff" stroke="#cc0000" stroke-width="1"/>
<rect x="626.5" y="484.5" width="5" height="84" fill="#fff" stroke="#cc0000" stroke-width="1"/>
<rect x="633.5" y="530.5" width="4" height="38" fill="#fff" stroke="#cc0000" stroke-width="1"/>
<rect x="639" y="532" width="6" height="37" fill="#008e00"/>
<rect x="646" y="540" width="5" height="29" fill="#008e00"/>
<rect x="652" y="527" width="6" height="42" fill="#008e00"/>
<rect x="659" y="528" width="5" height="41" fill="#008e00"/>
<rect x="665.5" y="529.5" width="5" height="39" fill="#fff" stroke="#cc0000" stroke-width="1"/>
<rect x="672" y="540" width="5" height="29" fill="#008e00"/>
<rect x="678.5" y="540.5" width="5" height="28" fill="#fff" stroke="#cc0000" stroke-width="1"/>
<rect x="685" y="540" width="6" height="29" fill="#008e00"/>
<rect x="692" y="526" width="5" height="43" fill="#008e00"/>
<rect x="698.5" y="543.5" width="5" height="25" fill="#fff" stroke="#cc0000" stroke-width="1"/>
<rect x="705.5" y="545.5" width="4" height="23" fill="#fff" stroke="#cc0000" stroke-width="1"/>
<rect x="711" y="540" width="6" height="29" fill="#008e00"/>
</g>
<g class="c">
<polyline points="68,486 75.5,494.25 85.5,500.5 95.5,506.5 105.5,512.5 115.5,514.25 123,513 125.5,512.3 132.5,514.8 138.5,517.9 145.5,505.5 152.5,499.2 158.5,490.7 165.5,484.9 171.5,474.4 178.5,470.1 184.5,466.3 191.5,466.6 197.5,458.8 204.5,448.2 210.5,452.6 217.5,447.4 223.5,441.7 230.5,432.3 236.5,433.9 243.5,433.2 250.5,431.8 256.5,427.4 263.5,428.9 269.5,433 276.5,435.3 282.5,439.3 289.5,446.3 295.5,449.3 302.5,446.3 308.5,445 315.5,445.4 321.5,450.2 328.5,452.6 334.5,452.1 341.5,453.2 348.5,460 354.5,464.9 361.5,474.6 367.5,483.6 374.5,489.2 380.5,493.2 387.5,496.2 393.5,496.2 400.5,499.3 406.5,501 413.5,502 419.5,504.3 426.5,504.6 433.5,501.8 439.5,500.5 446.5,500.5 452.5,500.8 459.5,503 465.5,503.6 472.5,510.85 478.5,515.25 485.5,517.85 491.5,516.55 498.5,520.05 504.5,524.55 511.5,526.05 517.5,527.25 524.5,528.55 531.5,530.45 537.5,528.3 544.5,525.7 550.5,524.8 557.5,529.7 563.5,533.5 570.5,535 576.5,536.3 583.5,538.3 589.5,539.4 596.5,540.5 602.5,541.3 609.5,539.5 615.5,537.7 622.5,537.9 629.5,532.4 635.5,531 642.5,530.2 648.5,529.5 655.5,528 661.5,526.4 668.5,524.7 674.5,527.5 681.5,529.1 687.5,529.5 694.5,533.7 700.5,535 707.5,536.3 713.5,536.3" fill="none" stroke="#cccc00" stroke-width="1"/>
<polyline points="68,499.25 75.5,505.5 85.5,511.5 93.5,515.7 99.5,517.7 106.5,519.1 112.5,516.7 119.5,518.9 125.5,508.9 132.5,511.9 138.5,516.7 145.5,494.3 152.5,479.5 158.5,472.5 165.5,457.9 171.5,432.1 178.5,445.9 184.5,453.1 191.5,460.7 197.5,459.7 204.5,464.3 210.5,459.3 217.5,441.7 223.5,422.7 230.5,404.9 236.5,403.5 243.5,407.1 250.5,421.9 256.5,432.1 263.5,452.9 269.5,462.5 276.5,463.5 282.5,456.7 289.5,460.5 295.5,445.7 302.5,430.1 308.5,426.5 315.5,434.1 321.5,439.9 328.5,459.5 334.5,474.1 341.5,479.9 348.5,485.9 354.5,489.9 361.5,489.7 367.5,493.1 374.5,498.5 380.5,500.5 387.5,502.5 393.5,502.7 400.5,505.5 406.5,503.5 413.5,503.5 419.5,506.1 426.5,506.5 433.5,498.1 439.5,497.5 446.5,497.5 452.5,495.5 459.5,499.5 465.5,509.1 472.5,524.2 478.5,533 485.5,540.2 491.5,533.6 498.5,531 504.5,524.9 511.5,519.1 517.5,514.3 524.5,523.5 531.5,529.9 537.5,531.7 544.5,532.3 550.5,535.3 557.5,535.9 563.5,537.1 570.5,538.3 576.5,540.3 583.5,541.3 589.5,542.9 596.5,543.9 602.5,544.3 609.5,538.7 615.5,534.1 622.5,532.9 629.5,520.9 635.5,517.7 642.5,521.7 648.5,524.9 655.5,523.1 661.5,531.9 668.5,531.7 674.5,533.3 681.5,533.3 687.5,535.9 694.5,535.5 700.5,538.3 707.5,539.3 713.5,539.3" fill="none" stroke="#9933ff" stroke-width="1"/>
</g>
<text class="a" x="8.5" y="24" font-size="19.5" fill="#8c8c8c" stroke="#8c8c8c" stroke-width="0.3">002423</text>
<text class="s" x="78" y="22" font-size="16" fill="#000">中粮资本</text>
<text class="s" x="406 414 422 430 438 446 454 462 470 478 486 494 502 510 518 526 534 542" y="20" font-size="17" fill="#009900" stroke="#009900" stroke-width="0.1" text-anchor="middle" xml:space="preserve">10.41 0.00 (0.00<tspan textLength="7.4" lengthAdjust="spacingAndGlyphs">%</tspan>)</text>
<text class="s" x="69 75 81 87 93 99 105 111" y="43" font-size="12" fill="#004c99" stroke="#004c99" stroke-width="0.2" text-anchor="middle" xml:space="preserve"><tspan class="m" font-size="12.36" textLength="5.7" lengthAdjust="spacingAndGlyphs">M</tspan><tspan class="m" font-size="12.36" textLength="5.7" lengthAdjust="spacingAndGlyphs">A</tspan>5:9.19</text>
<text class="s" x="287 293 299 305 311 317 323 329 335" y="43" font-size="12" fill="#9933ff" stroke="#9933ff" stroke-width="0.2" text-anchor="middle" xml:space="preserve"><tspan class="m" font-size="12.36" textLength="5.7" lengthAdjust="spacingAndGlyphs">M</tspan><tspan class="m" font-size="12.36" textLength="5.7" lengthAdjust="spacingAndGlyphs">A</tspan>10:9.45</text>
<text class="s" x="506 512 518 524 530 536 542 548 554 560" y="43" font-size="12" fill="#cccc00" stroke="#cccc00" stroke-width="0.2" text-anchor="middle" xml:space="preserve"><tspan class="m" font-size="12.36" textLength="5.7" lengthAdjust="spacingAndGlyphs">M</tspan><tspan class="m" font-size="12.36" textLength="5.7" lengthAdjust="spacingAndGlyphs">A</tspan>30:10.07</text>
<text class="s" x="69 75 81 87 93 99 105 111 117 123 129 135" y="370" font-size="12" fill="#9933ff" stroke="#9933ff" stroke-width="0.2" text-anchor="middle" xml:space="preserve"><tspan class="m" font-size="12.36" textLength="5.7" lengthAdjust="spacingAndGlyphs">M</tspan><tspan class="m" font-size="12.36" textLength="5.7" lengthAdjust="spacingAndGlyphs">A</tspan><tspan class="m" font-size="12.36" textLength="5.7" lengthAdjust="spacingAndGlyphs">V</tspan><tspan class="m" font-size="12.36" textLength="5.7" lengthAdjust="spacingAndGlyphs">O</tspan><tspan class="m" font-size="12.36" textLength="5.7" lengthAdjust="spacingAndGlyphs">L</tspan>5:54601</text>
<text class="s" x="396 402 408 414 420 426 432 438 444 450 456 462 468" y="370" font-size="12" fill="#cccc00" stroke="#cccc00" stroke-width="0.2" text-anchor="middle" xml:space="preserve"><tspan class="m" font-size="12.36" textLength="5.7" lengthAdjust="spacingAndGlyphs">M</tspan><tspan class="m" font-size="12.36" textLength="5.7" lengthAdjust="spacingAndGlyphs">A</tspan><tspan class="m" font-size="12.36" textLength="5.7" lengthAdjust="spacingAndGlyphs">V</tspan><tspan class="m" font-size="12.36" textLength="5.7" lengthAdjust="spacingAndGlyphs">O</tspan><tspan class="m" font-size="12.36" textLength="5.7" lengthAdjust="spacingAndGlyphs">L</tspan>10:62245</text>
<text class="s" x="16 22 28 34 40 46" y="76" font-size="12" fill="#cc0000" stroke="#cc0000" stroke-width="0.2" text-anchor="middle" xml:space="preserve">+60.0<tspan textLength="5.4" lengthAdjust="spacingAndGlyphs">%</tspan></text>
<text class="s" x="16 22 28 34 40 46" y="110" font-size="12" fill="#cc0000" stroke="#cc0000" stroke-width="0.2" text-anchor="middle" xml:space="preserve">+50.0<tspan textLength="5.4" lengthAdjust="spacingAndGlyphs">%</tspan></text>
<text class="s" x="16 22 28 34 40 46" y="144" font-size="12" fill="#cc0000" stroke="#cc0000" stroke-width="0.2" text-anchor="middle" xml:space="preserve">+40.0<tspan textLength="5.4" lengthAdjust="spacingAndGlyphs">%</tspan></text>
<text class="s" x="16 22 28 34 40 46" y="177" font-size="12" fill="#cc0000" stroke="#cc0000" stroke-width="0.2" text-anchor="middle" xml:space="preserve">+30.0<tspan textLength="5.4" lengthAdjust="spacingAndGlyphs">%</tspan></text>
<text class="s" x="16 22 28 34 40 46" y="211" font-size="12" fill="#cc0000" stroke="#cc0000" stroke-width="0.2" text-anchor="middle" xml:space="preserve">+20.0<tspan textLength="5.4" lengthAdjust="spacingAndGlyphs">%</tspan></text>
<text class="s" x="16 22 28 34 40 46" y="244" font-size="12" fill="#cc0000" stroke="#cc0000" stroke-width="0.2" text-anchor="middle" xml:space="preserve">+10.0<tspan textLength="5.4" lengthAdjust="spacingAndGlyphs">%</tspan></text>
<text class="s" x="16 22 28 34 40" y="278" font-size="12" fill="#000" stroke="#000" stroke-width="0.2" text-anchor="middle" xml:space="preserve">+0.0<tspan textLength="5.4" lengthAdjust="spacingAndGlyphs">%</tspan></text>
<text class="s" x="16 22 28 34 40 46" y="312" font-size="12" fill="#008e00" stroke="#008e00" stroke-width="0.2" text-anchor="middle" xml:space="preserve">-10.0<tspan textLength="5.4" lengthAdjust="spacingAndGlyphs">%</tspan></text>
<text class="s" x="725 731 737 743 749" y="76" font-size="12" fill="#cc0000" stroke="#cc0000" stroke-width="0.2" text-anchor="middle" xml:space="preserve">17.07</text>
<text class="s" x="725 731 737 743 749" y="110" font-size="12" fill="#cc0000" stroke="#cc0000" stroke-width="0.2" text-anchor="middle" xml:space="preserve">16.01</text>
<text class="s" x="725 731 737 743 749" y="144" font-size="12" fill="#cc0000" stroke="#cc0000" stroke-width="0.2" text-anchor="middle" xml:space="preserve">14.94</text>
<text class="s" x="725 731 737 743 749" y="177" font-size="12" fill="#cc0000" stroke="#cc0000" stroke-width="0.2" text-anchor="middle" xml:space="preserve">13.87</text>
<text class="s" x="725 731 737 743 749" y="211" font-size="12" fill="#cc0000" stroke="#cc0000" stroke-width="0.2" text-anchor="middle" xml:space="preserve">12.80</text>
<text class="s" x="725 731 737 743 749" y="244" font-size="12" fill="#cc0000" stroke="#cc0000" stroke-width="0.2" text-anchor="middle" xml:space="preserve">11.74</text>
<text class="s" x="725 731 737 743 749" y="278" font-size="12" fill="#000" stroke="#000" stroke-width="0.2" text-anchor="middle" xml:space="preserve">10.67</text>
<text class="s" x="725 731 737 743" y="312" font-size="12" fill="#008e00" stroke="#008e00" stroke-width="0.2" text-anchor="middle" xml:space="preserve">9.60</text>
<text class="s" x="727 733 739 745 751" y="543" font-size="12" fill="#000" stroke="#000" stroke-width="0.2" text-anchor="middle" xml:space="preserve">50000</text>
<text class="s" x="727 733 739 745 751 757" y="524" font-size="12" fill="#000" stroke="#000" stroke-width="0.2" text-anchor="middle" xml:space="preserve">100000</text>
<text class="s" x="727 733 739 745 751 757" y="504" font-size="12" fill="#000" stroke="#000" stroke-width="0.2" text-anchor="middle" xml:space="preserve">150000</text>
<text class="s" x="727 733 739 745 751 757" y="485" font-size="12" fill="#000" stroke="#000" stroke-width="0.2" text-anchor="middle" xml:space="preserve">200000</text>
<text class="s" x="727 733 739 745 751 757" y="466" font-size="12" fill="#000" stroke="#000" stroke-width="0.2" text-anchor="middle" xml:space="preserve">250000</text>
<text class="s" x="727 733 739 745 751 757" y="447" font-size="12" fill="#000" stroke="#000" stroke-width="0.2" text-anchor="middle" xml:space="preserve">300000</text>
<text class="s" x="727 733 739 745 751 757" y="427" font-size="12" fill="#000" stroke="#000" stroke-width="0.2" text-anchor="middle" xml:space="preserve">350000</text>
<text class="s" x="727 733 739 745 751 757" y="408" font-size="12" fill="#000" stroke="#000" stroke-width="0.2" text-anchor="middle" xml:space="preserve">400000</text>
<text class="s" x="727 733 739 745 751 757" y="388" font-size="12" fill="#000" stroke="#000" stroke-width="0.2" text-anchor="middle" xml:space="preserve">450000</text>
<text class="s" x="83" y="582" font-size="12" fill="#000">2月</text>
<text class="s" x="187" y="582" font-size="12" fill="#000">3月</text>
<text class="s" x="338" y="582" font-size="12" fill="#000">4月</text>
<text class="s" x="468" y="582" font-size="12" fill="#000">5月</text>
<text class="s" x="605" y="582" font-size="12" fill="#000">6月</text>
<text class="s" x="340 350 360 370 380 390 400 410 420 430" y="264.5" font-size="21.5" fill="#ff0000" stroke="#fff" stroke-width="0.4" text-anchor="middle" xml:space="preserve">2016<tspan font-size="14" dy="-5" stroke="none" textLength="11.6" lengthAdjust="spacingAndGlyphs">-</tspan><tspan dy="5">0</tspan>4<tspan font-size="14" dy="-5" stroke="none" textLength="11.6" lengthAdjust="spacingAndGlyphs">-</tspan><tspan dy="5">1</tspan>2</text>
<path class="c" d="M385.5,172.5 L394.5,195 L391,192 L387,190 L387,227 L384,227 L384,190 L380,192 L377,194 Z" fill="#ff0000"/>
</svg>
</body></html>
